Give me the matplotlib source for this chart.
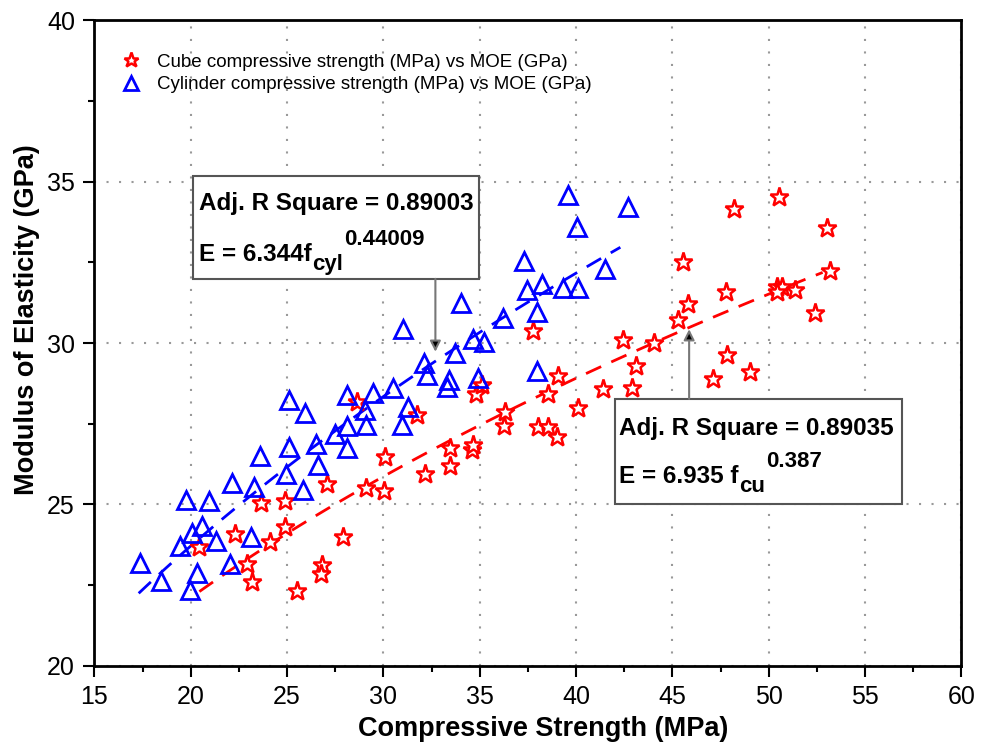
import matplotlib
matplotlib.use("Agg")
import numpy as np
import matplotlib.pyplot as plt
from matplotlib.patches import Rectangle
from matplotlib.ticker import MultipleLocator

plt.rcParams['font.family'] = ['Liberation Sans', 'DejaVu Sans']

# cube compressive strength (MPa) vs MOE (GPa)
cube_fc = [20.45, 23.16, 22.90, 22.30, 23.63, 24.11, 24.89, 24.89, 25.53, 27.09,
           26.83, 26.74, 27.92, 29.10, 30.03, 30.08, 28.61, 31.72, 32.16, 33.45,
           33.45, 34.58, 34.66, 34.80, 35.10, 36.26, 36.31, 37.75, 38.04, 38.55,
           38.99, 38.55, 39.07, 40.11, 41.41, 42.42, 42.88, 43.11, 44.04, 45.30,
           45.82, 45.56, 47.78, 47.81, 47.12, 49.02, 48.21, 50.54, 50.41, 50.67,
           50.41, 51.36, 52.40, 53.00, 53.17]
cube_E = [23.69, 22.61, 23.15, 24.08, 25.04, 23.85, 25.12, 24.29, 22.33, 25.63,
          23.12, 22.84, 23.98, 25.50, 25.43, 26.48, 28.18, 27.77, 25.94, 26.76,
          26.20, 26.69, 26.84, 28.41, 28.70, 27.43, 27.87, 30.38, 27.41, 27.41,
          27.10, 28.41, 28.98, 27.98, 28.57, 30.10, 28.60, 29.29, 30.01, 30.72,
          31.21, 32.52, 31.59, 29.63, 28.88, 29.11, 34.15, 34.54, 31.75, 31.73,
          31.59, 31.65, 30.94, 33.56, 32.24]

# cylinder compressive strength (MPa) vs MOE (GPa)
cyl_fc = [17.37, 18.44, 19.96, 20.34, 19.44, 20.05, 20.57, 19.75, 20.96, 21.31,
          22.04, 22.12, 23.13, 23.30, 23.59, 24.94, 25.11, 25.10, 25.84, 25.93,
          26.50, 26.62, 27.49, 28.09, 28.12, 28.10, 29.04, 29.10, 29.47, 30.51,
          31.29, 30.98, 31.03, 32.10, 32.28, 33.42, 33.28, 33.71, 34.02, 34.63,
          34.89, 35.23, 36.19, 37.29, 37.43, 37.98, 37.95, 38.24, 39.33, 39.59,
          40.03, 40.08, 41.50, 42.71]
cyl_E = [23.18, 22.63, 22.35, 22.88, 23.71, 24.11, 24.33, 25.14, 25.09, 23.87,
         23.15, 25.67, 24.00, 25.53, 26.50, 25.94, 26.79, 28.24, 25.45, 27.84,
         26.86, 26.22, 27.17, 27.43, 26.74, 28.40, 27.93, 27.46, 28.44, 28.60,
         28.03, 27.46, 30.43, 29.37, 29.01, 28.86, 28.65, 29.68, 31.23, 30.12,
         28.93, 30.04, 30.77, 32.55, 31.65, 30.97, 29.14, 31.83, 31.72, 34.59,
         33.61, 31.72, 32.29, 34.21]

# fitted power laws E = a * f^b
cube_fit = (6.935, 0.387)
cyl_fit = (6.344, 0.44009)
cube_fit_range = (20.45, 52.8)
cyl_fit_range = (17.3, 42.3)

fig = plt.figure(figsize=(9.83, 7.45), dpi=100)
ax = fig.add_axes([0.096, 0.1064, 0.882, 0.8662])

ax.plot(cube_fc, cube_E, linestyle='none', marker='*', markersize=14,
        markerfacecolor='white', markeredgecolor='red', markeredgewidth=1.8,
        label='Cube compressive strength (MPa) vs MOE (GPa)', zorder=4)
ax.plot(cyl_fc, cyl_E, linestyle='none', marker='^', markersize=13,
        markerfacecolor='none', markeredgecolor='blue', markeredgewidth=2,
        label='Cylinder compressive strength (MPa) vs MOE (GPa)', zorder=4)

xf = np.linspace(cube_fit_range[0], cube_fit_range[1], 100)
ax.plot(xf, cube_fit[0] * xf ** cube_fit[1], color='red', linestyle=(0, (6, 4)),
        linewidth=2, zorder=3)
xf = np.linspace(cyl_fit_range[0], cyl_fit_range[1], 100)
ax.plot(xf, cyl_fit[0] * xf ** cyl_fit[1], color='blue', linestyle=(0, (6, 4)),
        linewidth=2, zorder=3)

ax.set_xlim(15, 60)
ax.set_ylim(20, 40)
ax.xaxis.set_major_locator(MultipleLocator(5))
ax.yaxis.set_major_locator(MultipleLocator(5))
ax.xaxis.set_minor_locator(MultipleLocator(2.5))
ax.yaxis.set_minor_locator(MultipleLocator(2.5))
ax.tick_params(which='major', direction='out', length=8, width=1.5, labelsize=18, pad=6)
ax.tick_params(which='minor', direction='out', length=4, width=1.5)
ax.grid(True, which='major', color='#999999', linestyle=(0, (1, 5)), linewidth=1.5)
ax.set_axisbelow(True)
for s in ax.spines.values():
    s.set_linewidth(2)

ax.set_xlabel('Compressive Strength (MPa)', fontsize=19.5, fontweight='bold')
ax.set_ylabel('Modulus of Elasticity (GPa)', fontsize=19.5, fontweight='bold')
ax.xaxis.set_label_coords(0.518, -0.078)
ax.yaxis.set_label_coords(-0.063, 0.536)

ax.legend(loc='upper left', bbox_to_anchor=(0.012, 0.975), frameon=False, fontsize=13.5,
          handlelength=1.0, handletextpad=0.9, labelspacing=0.3, markerscale=0.8)


def eq_box(x0, y0, x1, y1, r2, coef, sub, power, tx, ty1, ty2):
    ax.add_patch(Rectangle((x0, y0), x1 - x0, y1 - y0, facecolor='white',
                           edgecolor='#555555', linewidth=1.5, zorder=5))
    ax.text(tx, ty1, 'Adj. R Square = ' + r2, fontsize=17.5, fontweight='bold', zorder=6)
    t = ax.text(tx, ty2, 'E = ' + coef + 'f', fontsize=17.5, fontweight='bold', zorder=6)
    s = ax.annotate(sub, xy=(1, 0), xycoords=t, xytext=(0.5, -3),
                    textcoords='offset points', fontsize=16, fontweight='bold',
                    va='baseline', zorder=6)
    ax.annotate(power, xy=(1, 0), xycoords=(s, t), xytext=(0.5, 15),
                textcoords='offset points', fontsize=16, fontweight='bold',
                va='baseline', zorder=6)


eq_box(20.10, 31.99, 34.96, 35.19, '0.89003', '6.344', 'cyl', '0.44009', 20.44, 34.12, 32.55)
eq_box(42.02, 25.01, 56.91, 28.27, '0.89035', '6.935 ', 'cu', '0.387', 42.24, 27.15, 25.66)

arrow = dict(arrowstyle='-|>', mutation_scale=16, facecolor='black', edgecolor='#777777',
             linewidth=1.5, shrinkA=0, shrinkB=0)
ax.annotate('', xy=(32.70, 29.73), xytext=(32.70, 31.99), arrowprops=arrow, zorder=6)
ax.annotate('', xy=(45.87, 30.43), xytext=(45.87, 28.27), arrowprops=arrow, zorder=6)

fig.savefig('out.png', dpi=100)
